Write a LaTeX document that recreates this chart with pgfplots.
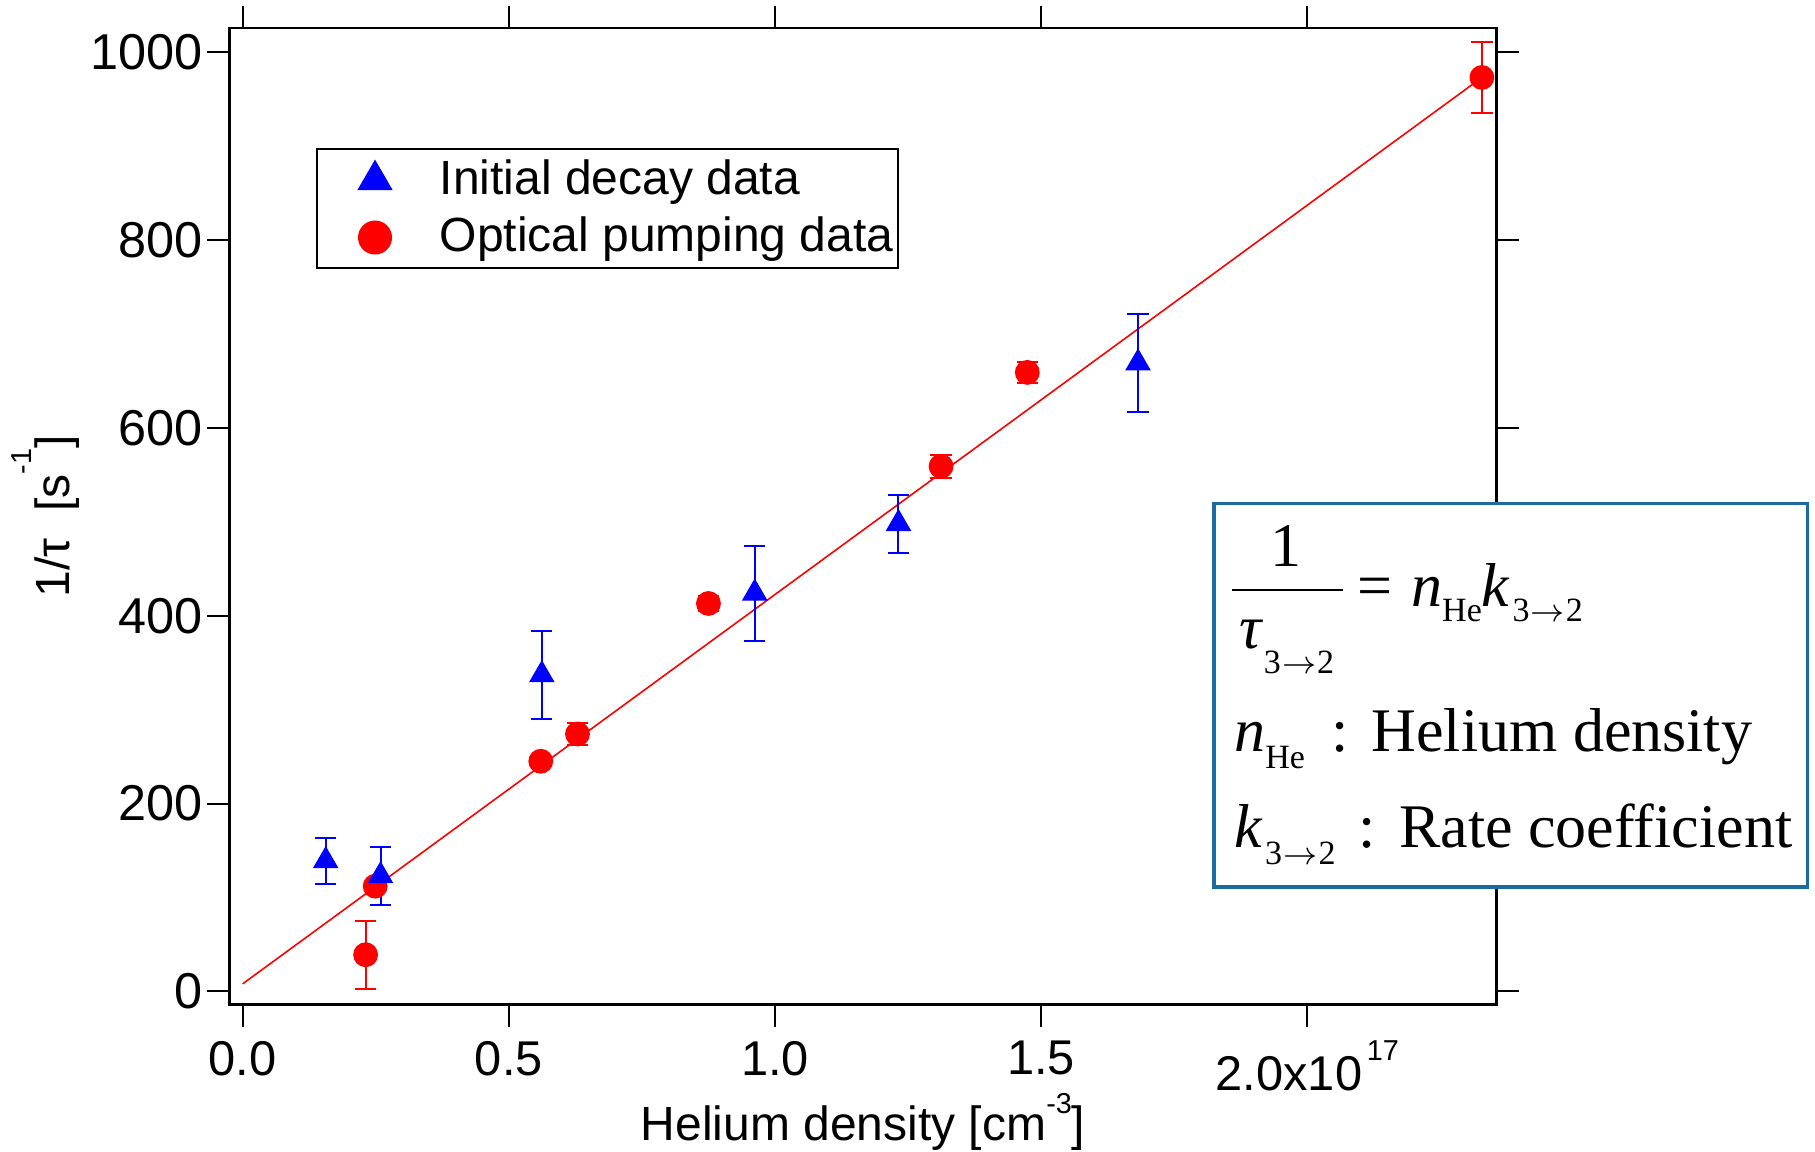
\documentclass[border=0pt]{standalone}
\usepackage{fontspec}
\setmainfont{Liberation Sans}
\newfontfamily\serif{Liberation Serif}
\usepackage{pgfplots}
\usepackage{pgfplotstable}
\pgfplotsset{compat=1.18}
\definecolor{boxblue}{RGB}{26,107,160}
\newcommand{\supr}[2]{\raisebox{#1}{\fontsize{7.2}{7.2}\selectfont #2}}
\newcommand{\sbs}[2][-4pt]{\raisebox{#1}{\fontsize{8.5}{8.5}\selectfont #2}}
\newcommand{\arr}{3\hspace{0.3pt}$\rightarrow$\hspace{0.3pt}2}

\pgfplotstableread{
x y e
0.156 139 24.5
0.259 123 31
0.562 337 47
0.962 424 50.5
1.232 498 31
1.682 669 52
}\bluedata

\pgfplotstableread{
x y e
0.231 39 36
0.249 112 3
0.560 245 3
0.629 274 12
0.875 413 8
1.312 559 12
1.474 659 11
2.328 973 37.6
}\reddata

\begin{document}
\begin{tikzpicture}
\begin{axis}[
  scale only axis, width=316.9pt, height=244.2pt,
  xmin=-0.0253, xmax=2.356, ymin=-14.3, ymax=1025.7,
  xtick={0,0.5,1,1.5,2},
  xticklabels={0.0,0.5,1.0,1.5,{2.0x10\hspace{1.2pt}\supr{7.5pt}{17}}},
  ytick={0,200,400,600,800,1000},
  tick align=outside, major tick length=5.5pt,
  tick style={black, line width=0.5pt},
  axis line style={line width=0.7pt},
  /pgf/number format/assume math mode=true,
  /pgf/number format/1000 sep={},
  xticklabel style={font=\fontsize{12.2}{14}\selectfont},
  yticklabel style={font=\fontsize{12.6}{14}\selectfont, xshift=2.3pt},
  label style={font=\fontsize{12}{14}\selectfont},
  xlabel={Helium density [cm\supr{6.7pt}{-3}]},
  ylabel={1/τ\ \ [s\supr{9.5pt}{-1}]},
  xlabel style={at={(axis description cs:0.5,-0.139)}, anchor=base},
  ylabel style={at={(axis description cs:-0.1262,0.5)}, anchor=base},
  legend style={at={(rel axis cs:0.0685,0.877)}, anchor=north west, draw=black, line width=0.5pt,
    inner xsep=1.2pt, inner ysep=1.4pt, row sep=1.8pt,
    font=\fontsize{12}{14}\selectfont, nodes={inner ysep=1.2pt, inner xsep=0pt}},
  legend image code/.code={\draw[#1] plot coordinates {(0pt,0pt)}; \path[draw=none, fill=none] (-13.3pt,-1pt) rectangle (16.2pt,1pt);},
  legend cell align=left,
  reverse legend,
]
\addplot[red, line width=0.4pt, forget plot] coordinates {(0,8) (2.328,973)};
\addplot[only marks, mark=*, red, mark size=2.9pt,
  legend image post style={mark size=4pt},
  error bars/.cd, y dir=both, y explicit,
  error bar style={red, line width=0.5pt},
  error mark options={rotate=90, red, mark size=2.65pt, line width=0.5pt}]
  table[x=x, y=y, y error=e] {\reddata};
\addlegendentry{Optical pumping data}
\addplot[only marks, mark=triangle*, blue, mark size=3.3pt,
  legend image post style={mark size=4.6pt},
  error bars/.cd, y dir=both, y explicit,
  error bar style={blue, line width=0.5pt},
  error mark options={rotate=90, blue, mark size=2.65pt, line width=0.5pt}]
  table[x=x, y=y, y error=e] {\bluedata};
\addlegendentry{Initial decay data}
\end{axis}
\draw[boxblue, line width=0.9pt, fill=white] (246.2pt,29.5pt) rectangle (394.6pt,125.35pt);
\begin{scope}[every node/.style={inner sep=0pt, font=\serif\fontsize{15.5}{18}\selectfont}]
% line 1: fraction
\node[anchor=base] at (264.3pt,109.5pt) {1};
\draw[black, line width=0.67pt] (250.6pt,103.7pt) -- (278.5pt,103.7pt);
\node[anchor=base west] at (252.3pt,89.0pt) {\itshape τ\hspace{0.6pt}\upshape\sbs[-6.2pt]{\arr}};
\node[anchor=base west] at (281.9pt,99.5pt) {=};
\node[anchor=base west] at (295.3pt,99.5pt) {\itshape n\upshape\sbs[-3.75pt]{He}\itshape k\hspace{0.8pt}\upshape\sbs[-3.75pt]{\arr}};
% line 2
\node[anchor=base west] at (251.1pt,63.3pt) {\itshape n\upshape\sbs[-4.2pt]{He}};
\node[anchor=base west] at (275.4pt,63.3pt) {:};
\node[anchor=base west] at (285.4pt,63.3pt) {Helium density};
% line 3
\node[anchor=base west] at (251.1pt,39.2pt) {\itshape k\hspace{0.8pt}\upshape\sbs[-4.2pt]{\arr}};
\node[anchor=base west] at (282.2pt,39.2pt) {:};
\node[anchor=base west] at (292.3pt,39.2pt) {Rate coefficient};
\end{scope}
\pgfresetboundingbox
\path[use as bounding box] (-57.3pt,-36.8pt) rectangle (396.45pt,251.2pt);
\end{tikzpicture}
\end{document}
